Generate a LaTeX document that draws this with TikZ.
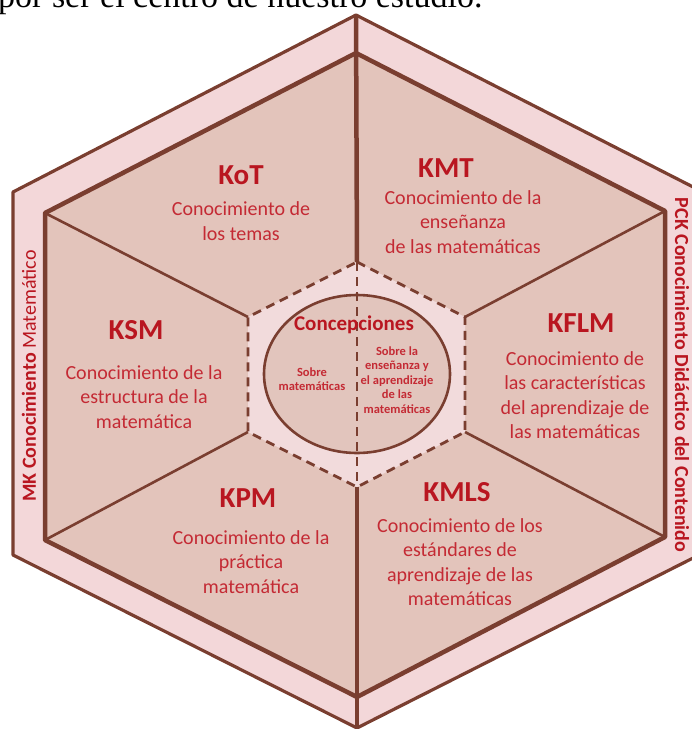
\documentclass[tikz,border=0pt]{standalone}
\usepackage{fontspec}
\setmainfont{Carlito}
\newfontfamily\timesfont{Liberation Serif}
\definecolor{lineb}{RGB}{122,62,48}
\definecolor{bandpink}{RGB}{243,215,217}
\definecolor{innerpink}{RGB}{227,196,187}
\definecolor{centerpink}{RGB}{242,219,220}
\definecolor{circpink}{RGB}{226,197,189}
\definecolor{titlered}{RGB}{185,22,32}
\definecolor{bodyred}{RGB}{196,42,52}
\begin{document}
\begin{tikzpicture}[x=1pt,y=-1pt,
  outerline/.style={draw=lineb, line width=3.2pt, line join=round},
  innerline/.style={draw=lineb, line width=4.5pt, line join=round},
  spoke/.style={draw=lineb, line width=2.6pt},
  midline/.style={draw=lineb, line width=4.5pt},
  dashline/.style={draw=lineb, line width=2.8pt, dash pattern=on 9pt off 6pt},
  title/.style={font=\bfseries\fontsize{29}{32}\selectfont, text=titlered},
  body/.style={font=\fontsize{20}{24.5}\selectfont, text=bodyred, align=center},
  small/.style={font=\bfseries\fontsize{12.5}{14.5}\selectfont, text=bodyred, align=center},
  bandtext/.style={font=\fontsize{20}{22}\selectfont, text=titlered}]
\useasboundingbox (0,0) rectangle (692,729);
% outer hexagon
\coordinate (oT) at (356,15);
\coordinate (oUR) at (699,190);
\coordinate (oLR) at (699,555);
\coordinate (oB) at (357,728);
\coordinate (oLL) at (13,555);
\coordinate (oUL) at (13,192);
% inner hexagon
\coordinate (iT) at (356,53);
\coordinate (iUR) at (665,211);
\coordinate (iLR) at (665,537);
\coordinate (iB) at (357,697);
\coordinate (iLL) at (45,540);
\coordinate (iUL) at (45,213);
% centre hexagon
\coordinate (cT) at (357,262);
\coordinate (cUR) at (465,317);
\coordinate (cLR) at (465,432);
\coordinate (cB) at (357,487);
\coordinate (cLL) at (248,432);
\coordinate (cUL) at (248,317);
\coordinate (cC) at (357,374);

\path[outerline, fill=bandpink] (oT) -- (oUR) -- (oLR) -- (oB) -- (oLL) -- (oUL) -- cycle;
\path[innerline, fill=innerpink] (iT) -- (iUR) -- (iLR) -- (iB) -- (iLL) -- (iUL) -- cycle;
\path[spoke] (iUL) -- (cUL);
\path[spoke] (iUR) -- (cUR);
\path[spoke] (iLL) -- (cLL);
\path[spoke] (iLR) -- (cLR);
\path[midline] (oT) -- (cT);
\path[midline] (cB) -- (oB);
\path[fill=centerpink] (cT) -- (cUR) -- (cLR) -- (cB) -- (cLL) -- (cUL) -- cycle;
\path[dashline] (cT) -- (cUR) -- (cLR) -- (cB) -- (cLL) -- (cUL) -- cycle;
\path[draw=lineb, line width=2.6pt, fill=circpink] (cC) ellipse [x radius=93, y radius=79];
\path[dashline] (cT) -- (cB);

% top text (cut off)
\node[anchor=base west, font=\timesfont\fontsize{34}{36}\selectfont, inner sep=0pt] (toptext) at (-2,7) {por ser el centro de nuestro estudio.};

% sector texts
\node[title] (kot) at (241,175) {KoT};
\node[body] (kotb) at (241,221) {Conocimiento de\\los temas};
\node[title] (kmt) at (446,168) {KMT};
\node[body] (kmtb) at (463,222) {Conocimiento de la\\enseñanza\\de las matemáticas};
\node[title] (kflm) at (581,323) {KFLM};
\node[body] (kflmb) at (575,395) {Conocimiento de\\las características\\del aprendizaje de\\las matemáticas};
\node[title] (ksm) at (136,330) {KSM};
\node[body] (ksmb) at (144,397) {Conocimiento de la\\estructura de la\\matemática};
\node[title] (kpm) at (248,498) {KPM};
\node[body] (kpmb) at (251,562) {Conocimiento de la\\práctica\\matemática};
\node[title] (kmls) at (457,492) {KMLS};
\node[body] (kmlsb) at (460,562) {Conocimiento de los\\estándares de\\aprendizaje de las\\matemáticas};

% centre texts
\node[font=\bfseries\fontsize{21}{24}\selectfont, text=titlered] (conc) at (354,325) {Concepciones};
\node[small] (sobm) at (312,379) {Sobre\\matemáticas};
\node[small] (sobe) at (397,380) {Sobre la\\enseñanza y\\el aprendizaje\\de las\\matemáticas};

% band texts
\node[bandtext, rotate=90] (mk) at (29,376) {\textbf{MK Conocimiento} Matemático};
\node[bandtext, rotate=-90, font=\bfseries\fontsize{20}{22}\selectfont] (pck) at (682,375) {PCK Conocimiento Didáctico del Contenido};
\end{tikzpicture}
\end{document}
